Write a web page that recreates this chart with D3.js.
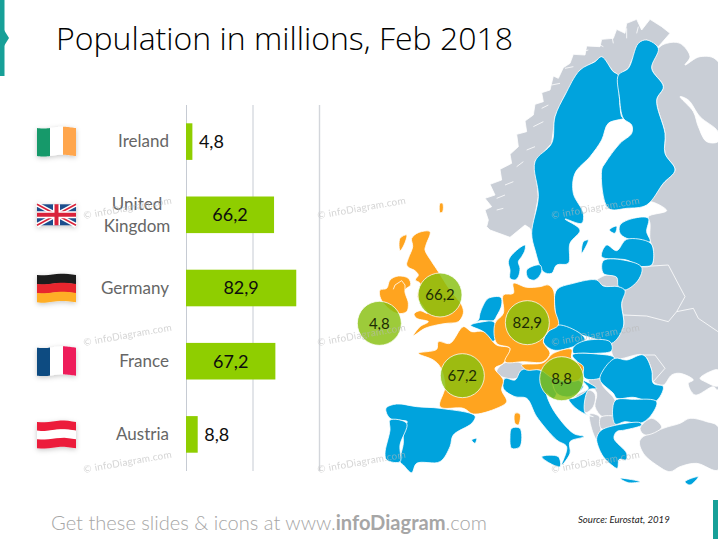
<!DOCTYPE html>
<html>
<head>
<meta charset="utf-8">
<script src="https://cdn.jsdelivr.net/npm/d3@7"></script>
<style>
  html, body { margin: 0; padding: 0; background: #fff; }
  text { font-family: Lato, sans-serif; }
</style>
</head>
<body>
<div id="chart"></div>
<script>
const categories = ["Ireland", "United Kingdom", "Germany", "France", "Austria"];
const populations = [4.8, 66.2, 82.9, 67.2, 8.8];
const gridTicks = [0, 50, 100];
const bubbleAnchors = [[118, 400], [300, 315], [562, 398], [367, 557], [665, 566]];

// map outlines, in map units (3 units = 1 px)
const norway = [[450,120],[510,142],[555,105],[570,115],[575,130],[595,20],[585,-85],[635,-140],[645,-220],[675,-285],[720,-360],[765,-385],[785,-400],[820,-355],[835,-345],[865,-365],[895,-435],[920,-450],[955,-430],[990,-470],[965,-490],[930,-512],[905,-480],[890,-512],[860,-500],[855,-470],[830,-482],[820,-455],[785,-452],[780,-430],[740,-432],[735,-405],[700,-407],[690,-380],[670,-367],[655,-335],[640,-342],[630,-300],[605,-292],[610,-265],[585,-257],[580,-225],[555,-207],[560,-175],[530,-167],[535,-130],[510,-107],[515,-80],[480,-62],[485,-30],[450,-17],[465,15],[435,25],[455,50],[435,60],[445,90],[440,110]];
const russia = [[955,-425],[980,-440],[1020,-440],[1050,-400],[1035,-375],[1080,-400],[1134,-385],[1134,600],[1120,590],[1065,615],[1045,580],[1060,570],[1020,550],[995,555],[970,585],[940,575],[935,540],[910,495],[825,505],[815,460],[850,410],[845,340],[855,300],[895,270],[905,230],[935,225],[940,180],[930,150],[930,100],[925,80],[980,62],[930,35],[920,45],[970,-20],[1005,-60],[975,-110],[975,-170],[950,-270],[970,-310],[935,-365]];
const kaliningrad = [[760,280],[800,255],[830,262],[835,290],[790,288]];
const switzerland = [[470,545],[495,518],[545,520],[560,540],[530,565],[490,562]];
const turkey = [[900,750],[970,715],[1020,700],[1050,685],[1100,695],[1134,710],[1134,840],[1070,820],[1020,830],[990,845],[950,825],[910,790]];
const turkeyEurope = [[900,715],[935,685],[965,712],[915,735]];
const serbia = [[745,570],[775,560],[790,590],[825,630],[830,680],[790,682],[765,650],[770,610]];
const bosnia = [[700,628],[745,600],[765,612],[760,650],[735,668]];
const albania = [[750,672],[778,680],[782,722],[770,748],[752,705]];
const macedonia = [[782,682],[830,682],[832,705],[784,716]];

const sweden = [[785,-400],[820,-355],[835,-345],[838,-280],[845,-220],[850,-215],[805,-200],[785,-150],[750,-100],[705,-50],[700,10],[730,70],[725,100],[675,87],[720,120],[690,160],[685,220],[650,225],[635,250],[610,245],[585,180],[575,130],[595,20],[585,-85],[635,-140],[645,-220],[675,-285],[720,-360],[765,-385]];
const finland = [[835,-345],[865,-365],[895,-440],[920,-450],[955,-425],[935,-365],[970,-310],[950,-270],[975,-170],[975,-110],[1005,-60],[970,-20],[920,45],[860,55],[805,55],[785,-60],[795,-80],[840,-140],[875,-170],[875,-195],[850,-215],[838,-280]];
const estonia = [[840,105],[880,85],[925,85],[920,125],[930,155],[860,145],[840,130]];
const latvia = [[785,200],[800,165],[830,182],[860,148],[930,158],[940,180],[935,225],[905,230],[860,210]];
const lithuania = [[790,212],[860,212],[905,232],[895,270],[855,300],[835,290],[830,262],[790,250]];
const poland = [[650,300],[700,280],[770,270],[790,288],[835,290],[855,302],[845,340],[850,410],[815,460],[760,445],[710,430],[655,405],[645,360]];
const czechia = [[610,455],[625,425],[655,405],[720,430],[735,450],[700,470],[640,480]];
const slovakia = [[700,472],[735,452],[810,455],[815,482],[770,490],[730,490],[700,490]];
const hungary = [[697,495],[770,492],[825,505],[790,560],[735,565],[725,530]];
const romania = [[790,540],[825,505],[860,510],[910,495],[935,540],[940,580],[970,590],[945,635],[880,622],[830,625],[820,610],[780,570]];
const bulgaria = [[825,632],[880,628],[950,635],[930,680],[900,700],[855,695],[825,702]];
const greece = [[770,745],[782,722],[830,705],[900,698],[905,705],[855,720],[830,725],[822,745],[860,790],[858,810],[838,808],[832,835],[815,825],[790,800],[775,770]];
const crete = [[840,865],[870,868],[900,875],[865,878]];
const cyprus = [[1035,875],[1075,860],[1050,885]];
const netherlands = [[392,404],[415,390],[420,370],[430,345],[445,325],[482,322],[485,345],[470,378],[460,392],[420,392]];
const belgium = [[392,406],[425,396],[462,396],[472,440],[455,455],[430,425]];
const denmark = [[515,195],[555,165],[555,180],[545,200],[535,215],[540,235],[535,260],[525,270],[510,265],[510,240],[505,215]];
const zealand = [[560,240],[600,225],[605,245],[585,270],[565,265]];
const spain = [[138,655],[170,642],[230,650],[300,655],[405,678],[395,700],[340,735],[330,770],[300,815],[230,820],[215,848],[190,825],[180,815],[190,760],[190,710],[202,695],[150,685]];
const portugal = [[150,690],[200,700],[180,765],[180,815],[140,810],[135,790],[150,720]];
const italy = [[490,595],[495,565],[525,570],[545,540],[600,540],[640,565],[650,610],[640,625],[620,610],[640,660],[700,730],[732,740],[690,755],[690,790],[665,825],[680,770],[650,750],[590,680],[560,625],[525,620]];
const sicily = [[605,800],[655,800],[660,830],[630,820]];
const sardinia = [[515,715],[540,715],[540,770],[515,775],[510,740]];
const malta = [[395,750],[410,745],[405,760]];
const slovenia = [[640,565],[715,570],[730,590],[690,620],[650,610]];
const croatia = [[685,625],[700,625],[745,595],[725,570],[770,595],[745,600],[735,668],[760,680],[735,672],[700,648]];
const gotland = [[730,155],[745,150],[725,190]];
const saaremaa = [[808,120],[830,108],[825,130]];

const ireland = [[120,300],[140,295],[150,270],[175,258],[205,265],[212,285],[195,300],[205,340],[200,365],[170,370],[135,345],[120,320]];
const britain = [[215,145],[235,128],[270,125],[258,165],[255,180],[275,215],[295,245],[330,300],[365,345],[370,370],[355,395],[320,400],[290,405],[255,415],[220,437],[240,410],[265,395],[230,385],[222,372],[240,362],[262,370],[250,350],[232,320],[240,280],[226,270],[235,255],[222,240],[210,235],[200,225],[205,205],[218,170]];
const hebrides = [[180,145],[200,135],[192,165],[180,182]];
const shetland = [[300,40],[308,40],[308,65],[300,68]];
const france = [[235,490],[290,478],[295,455],[330,460],[370,410],[395,425],[430,425],[470,465],[510,475],[490,520],[465,535],[490,570],[485,600],[500,635],[470,655],[400,672],[370,655],[300,650],[315,590],[300,530],[280,510]];
const corsica = [[525,670],[540,672],[535,705],[525,700]];
const germany = [[520,280],[560,292],[600,290],[625,285],[640,300],[645,360],[655,405],[625,425],[610,455],[630,490],[610,515],[550,515],[495,515],[510,475],[470,460],[465,400],[490,370],[490,315],[520,310]];
const austria = [[545,525],[610,518],[640,490],[695,478],[695,505],[730,530],[715,570],[640,565],[600,540],[560,540]];

const grayLand = [russia, kaliningrad, switzerland, turkey, turkeyEurope, serbia, bosnia, albania, macedonia];
const blueLand = [sweden, finland, estonia, latvia, lithuania, poland, czechia, slovakia, hungary, romania, bulgaria, greece, crete, cyprus, netherlands, belgium, denmark, zealand, spain, portugal, italy, sicily, sardinia, malta, slovenia, croatia, gotland, saaremaa];
const orangeLand = [ireland, britain, hebrides, shetland, france, corsica, germany, austria];
const seas = [
  [[1020,-280],[1045,-270],[1080,-220],[1134,-175],[1134,-145],[1100,-145],[1075,-190],[1060,-235]],
  [[1080,565],[1110,545],[1134,540],[1134,588],[1095,575]]
];
const borders = [
  [[850,375],[920,378],[985,395],[1010,365],[1060,355],[1075,385],[1134,425]],
  [[905,230],[985,225],[1035,320],[1010,365]],
  [[910,495],[945,495],[975,535],[940,575]],
  [[160,298],[165,285],[185,272],[195,285],[195,300]]
];
const fjords = [
  [[470,60],[490,55]], [[470,25],[495,15]], [[495,-15],[520,-25]], [[530,-70],[550,-85]], [[560,-120],[585,-130]],
  [[580,-190],[610,-205]], [[605,-245],[625,-255]], [[635,-315],[660,-320]], [[675,-365],[700,-370]],
  [[725,-415],[745,-420]], [[770,-440],[790,-430]], [[815,-465],[820,-440]], [[860,-485],[860,-455]], [[895,-490],[890,-470]]
];

const flagStripes = {
  Ireland: { dir: "v", colors: ["#17996B", "#ffffff", "#FFA64D"] },
  Germany: { dir: "h", colors: ["#1d1d1d", "#E8262D", "#FFAE25"] },
  France: { dir: "v", colors: ["#0F4C81", "#ffffff", "#EE1B5A"] },
  Austria: { dir: "h", colors: ["#EC1C3B", "#ffffff", "#EC1C3B"] }
};

const width = 718, height = 539;
const margin = { left: 186, right: 399, top: 105, bottom: 68 };

const svg = d3.select("#chart").append("svg")
  .attr("width", width)
  .attr("height", height)
  .style("display", "block");

const defs = svg.append("defs");
defs.append("filter").attr("id", "flagShadow")
  .attr("x", "-30%").attr("y", "-30%").attr("width", "160%").attr("height", "170%")
  .append("feDropShadow")
  .attr("dx", 0).attr("dy", 1.5).attr("stdDeviation", 2.5)
  .attr("flood-color", "#000").attr("flood-opacity", 0.22);

// accents
svg.append("rect").attr("x", 0).attr("y", 0).attr("width", 4.5).attr("height", 76).attr("fill", "#17A098");
svg.append("path").attr("d", "M0,30L4,30L9,38L4,46L0,46Z").attr("fill", "#17A098");
svg.append("rect").attr("x", 713).attr("y", 500).attr("width", 5).attr("height", 39).attr("fill", "#17A098");

// map
const mapX = d3.scaleLinear().domain([0, 1134]).range([340, 718]);
const mapY = d3.scaleLinear().domain([0, 900]).range([190, 490]);
const outline = d3.line().x(d => mapX(d[0])).y(d => mapY(d[1]));
const smooth = d3.line().x(d => mapX(d[0])).y(d => mapY(d[1])).curve(d3.curveCatmullRomClosed.alpha(0.5));

const map = svg.append("g").attr("class", "map");
const drawLand = (shapes, fill, pathFn) => {
  map.append("g").selectAll("path").data(shapes).enter().append("path")
    .attr("d", pathFn)
    .attr("fill", fill)
    .attr("stroke", "#fff")
    .attr("stroke-width", 0.8)
    .attr("stroke-linejoin", "round");
};
drawLand([norway], "#C9CED6", d => outline(d) + "Z");
drawLand(grayLand, "#C9CED6", smooth);
drawLand(seas, "#fff", smooth);
drawLand(blueLand, "#00A3DD", smooth);
drawLand(orangeLand, "#FFA41F", smooth);

map.append("g").selectAll("path").data(borders.concat(fjords)).enter().append("path")
  .attr("d", outline)
  .attr("fill", "none")
  .attr("stroke", "#fff")
  .attr("stroke-width", 0.8);

// bars
const x = d3.scaleLinear().domain([0, 100]).range([margin.left, width - margin.right]);
const y = d3.scaleBand().domain(categories)
  .range([margin.top, height - margin.bottom])
  .paddingInner(0.5).paddingOuter(0.25);

const grid = svg.append("g")
  .attr("transform", `translate(0,${margin.top})`)
  .call(d3.axisTop(x).tickValues(gridTicks).tickSize(-(height - margin.top - margin.bottom)).tickFormat(""));
grid.select(".domain").remove();
grid.selectAll("line").attr("stroke", "#C6CBD3").attr("stroke-width", 1);
grid.selectAll("line").filter(d => d === 100).attr("stroke", "#D3D6DB").attr("stroke-width", 1.4);

svg.selectAll(".bar").data(populations).enter().append("rect")
  .attr("class", "bar")
  .attr("x", x(0))
  .attr("y", (d, i) => y(categories[i]))
  .attr("width", d => x(d) - x(0))
  .attr("height", y.bandwidth())
  .attr("fill", "#8FCE00");

const fmt = v => String(v).replace(".", ",");

svg.selectAll(".bar-value").data(populations).enter().append("text")
  .attr("class", "bar-value")
  .attr("x", d => d < 20 ? x(d) + 6.5 : (x(0) + x(d)) / 2)
  .attr("y", (d, i) => y(categories[i]) + y.bandwidth() / 2)
  .attr("dy", "0.36em")
  .attr("text-anchor", d => d < 20 ? "start" : "middle")
  .attr("font-size", 18)
  .attr("fill", "#0d0d0d")
  .text(fmt);

// country labels
categories.forEach(c => {
  const cy = y(c) + y.bandwidth() / 2;
  if (c === "United Kingdom") {
    svg.append("text").attr("x", 137).attr("y", cy - 11).attr("dy", "0.36em").attr("text-anchor", "middle")
      .attr("font-size", 17).attr("fill", "#666").text("United");
    svg.append("text").attr("x", 137).attr("y", cy + 11).attr("dy", "0.36em").attr("text-anchor", "middle")
      .attr("font-size", 17).attr("fill", "#666").text("Kingdom");
  } else {
    svg.append("text").attr("x", 169).attr("y", cy - 0.5).attr("dy", "0.36em").attr("text-anchor", "end")
      .attr("font-size", 17).attr("fill", "#666").text(c);
  }
});

// flags
const flagW = 39;
const waveY = t => 0.9 * Math.sin(t * Math.PI * 2 + 0.6);
const flagPath = (x0, y0, w, h, fromT, toT) => {
  const ts = d3.range(0, 1.001, 0.1).map(k => fromT + (toT - fromT) * k);
  const top = ts.map(t => [x0 + t * flagW, y0 + waveY(t)]);
  const bottom = ts.slice().reverse().map(t => [x0 + t * flagW, y0 + h + waveY(t)]);
  return d3.line()(top.concat(bottom)) + "Z";
};
const flagHeight = { Ireland: 28, "United Kingdom": 21, Germany: 27, France: 28, Austria: 26 };
categories.forEach(c => {
  const cy = y(c) + y.bandwidth() / 2;
  const h = flagHeight[c];
  const y0 = cy - h / 2;
  const g = svg.append("g").attr("filter", "url(#flagShadow)");
  const fs = flagStripes[c];
  if (fs && fs.dir === "v") {
    fs.colors.forEach((col, i) => g.append("path").attr("d", flagPath(37, y0, flagW, h, i / 3, (i + 1) / 3)).attr("fill", col));
  } else if (fs) {
    fs.colors.forEach((col, i) => g.append("path").attr("d", flagPath(37, y0 + i * h / 3, flagW, h / 3 + 0.3, 0, 1)).attr("fill", col));
  } else {
    const x0 = 37, x1 = 37 + flagW, y1 = y0 + h, mx = 37 + flagW / 2;
    g.append("rect").attr("x", x0).attr("y", y0).attr("width", flagW).attr("height", h).attr("fill", "#1F4E8C");
    g.append("path").attr("d", `M${x0},${y0}L${x1},${y1}M${x1},${y0}L${x0},${y1}`).attr("stroke", "#fff").attr("stroke-width", 4.5);
    g.append("path").attr("d", `M${x0},${y0}L${x1},${y1}M${x1},${y0}L${x0},${y1}`).attr("stroke", "#D9243A").attr("stroke-width", 1.6);
    g.append("path").attr("d", `M${mx},${y0}V${y1}M${x0},${cy}H${x1}`).attr("stroke", "#fff").attr("stroke-width", 7);
    g.append("path").attr("d", `M${mx},${y0}V${y1}M${x0},${cy}H${x1}`).attr("stroke", "#D9243A").attr("stroke-width", 4);
  }
});

// bubbles on the map
const bubbles = svg.append("g").attr("class", "bubbles");
bubbles.selectAll("circle").data(populations).enter().append("circle")
  .attr("cx", (d, i) => mapX(bubbleAnchors[i][0]))
  .attr("cy", (d, i) => mapY(bubbleAnchors[i][1]))
  .attr("r", 22)
  .attr("fill", "#87C00F")
  .attr("fill-opacity", 0.82)
  .attr("stroke", "#fff")
  .attr("stroke-opacity", 0.75)
  .attr("stroke-width", 1);
bubbles.selectAll("text").data(populations).enter().append("text")
  .attr("x", (d, i) => mapX(bubbleAnchors[i][0]))
  .attr("y", (d, i) => mapY(bubbleAnchors[i][1]))
  .attr("dy", "0.36em")
  .attr("text-anchor", "middle")
  .attr("font-size", 15)
  .attr("fill", "#1c2b05")
  .text(fmt);

// watermarks
const markX = [84, 318, 552], markY = [219, 346, 473];
markX.forEach(mx => markY.forEach(my => {
  svg.append("text")
    .attr("transform", `translate(${mx},${my}) rotate(-10)`)
    .attr("font-size", 10)
    .attr("letter-spacing", 0.25)
    .attr("fill", "#b9b9b9")
    .attr("opacity", 0.6)
    .text("© infoDiagram.com");
}));

// title and footer
svg.append("text").attr("x", 56).attr("y", 50)
  .style("font-family", "'Open Sans', sans-serif").style("font-weight", 300)
  .attr("font-size", 32).attr("fill", "#000").text("Population in millions, Feb 2018");

const footer = svg.append("text").attr("x", 51).attr("y", 530)
  .attr("font-size", 20.1).attr("fill", "#A6A6A6").style("font-weight", 300);
footer.append("tspan").text("Get these slides & icons at www.");
footer.append("tspan").style("font-weight", 700).text("infoDiagram");
footer.append("tspan").text(".com");

svg.append("text").attr("x", 578).attr("y", 523)
  .attr("font-size", 9.6).attr("font-style", "italic").attr("fill", "#222")
  .text("Source: Eurostat, 2019");
</script>
</body>
</html>
